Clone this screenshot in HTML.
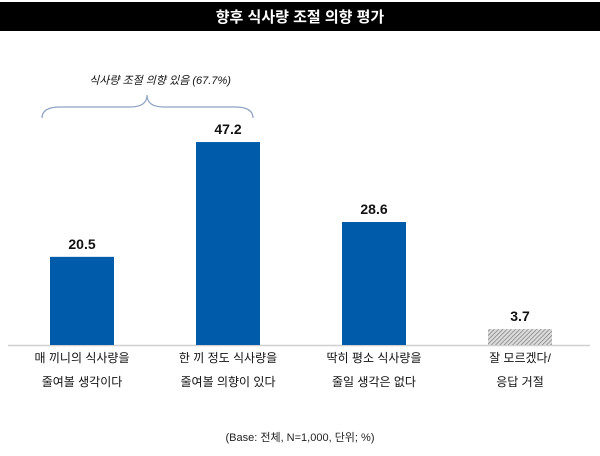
<!DOCTYPE html>
<html><head><meta charset="utf-8"><style>
body{margin:0;width:600px;height:451px;background:#fff;overflow:hidden;font-family:"Liberation Sans","Noto Sans CJK KR",sans-serif}
</style></head><body>
<svg width="600" height="451" xmlns="http://www.w3.org/2000/svg">
<defs><pattern id="hatch" width="3" height="3" patternUnits="userSpaceOnUse" patternTransform="rotate(45)"><rect width="3" height="3" fill="#ddd"/><line x1="0" y1="0" x2="0" y2="3" stroke="#777" stroke-width="1.4"/></pattern></defs>
<rect x="0" y="2" width="600" height="29" fill="#000"/>
<text x="300" y="22" fill="#fff" font-size="15" font-weight="bold" text-anchor="middle">향후 식사량 조절 의향 평가</text>
<text x="160" y="84" font-size="11" font-style="italic" text-anchor="middle" fill="#111">식사량 조절 의향 있음 (67.7%)</text>
<path d="M42 118 Q42 107 60 107 L130 107 Q147 107 147 95 Q147 107 164 107 L235 107 Q253 107 253 118" fill="none" stroke="#8ea3c4" stroke-width="1.2"/>
<line x1="8" y1="345.5" x2="590" y2="345.5" stroke="#d0d0d0" stroke-width="1.5"/>
<g id="bars"></g>
<text x="300" y="441" font-size="11" text-anchor="middle" fill="#222">(Base: 전체, N=1,000, 단위; %)</text>
</svg>
<script>
const categories1=["매 끼니의 식사량을","한 끼 정도 식사량을","딱히 평소 식사량을","잘 모르겠다/"];
const categories2=["줄여볼 생각이다","줄여볼 의향이 있다","줄일 생각은 없다","응답 거절"];
const values=[20.5,47.2,28.6,3.7];
const labels=["20.5","47.2","28.6","3.7"];
const ns="http://www.w3.org/2000/svg";
const g=document.getElementById('bars');
const base=345, scale=4.3;
const x=i=>82+i*146;
const y=v=>base-v*scale;
function mk(t,a){const e=document.createElementNS(ns,t);for(const k in a)e.setAttribute(k,a[k]);g.appendChild(e);return e;}
values.forEach((v,i)=>{
 const r=mk('rect',{x:x(i)-32,y:y(v),width:64,height:base-y(v),fill:i==3?'url(#hatch)':'#005bab'});
 
 
 const t=mk('text',{x:x(i),y:y(v)-8,'font-size':14,'font-weight':'bold','text-anchor':'middle',fill:'#111'});
 t.textContent=labels[i];
 
 
 const c1=mk('text',{x:x(i),y:362,'font-size':12,'text-anchor':'middle',fill:'#111'});
 c1.textContent=categories1[i];
 
 
 const c2=mk('text',{x:x(i),y:386,'font-size':12,'text-anchor':'middle',fill:'#111'});
 c2.textContent=categories2[i];
 
 
});
</script>
</body></html>
